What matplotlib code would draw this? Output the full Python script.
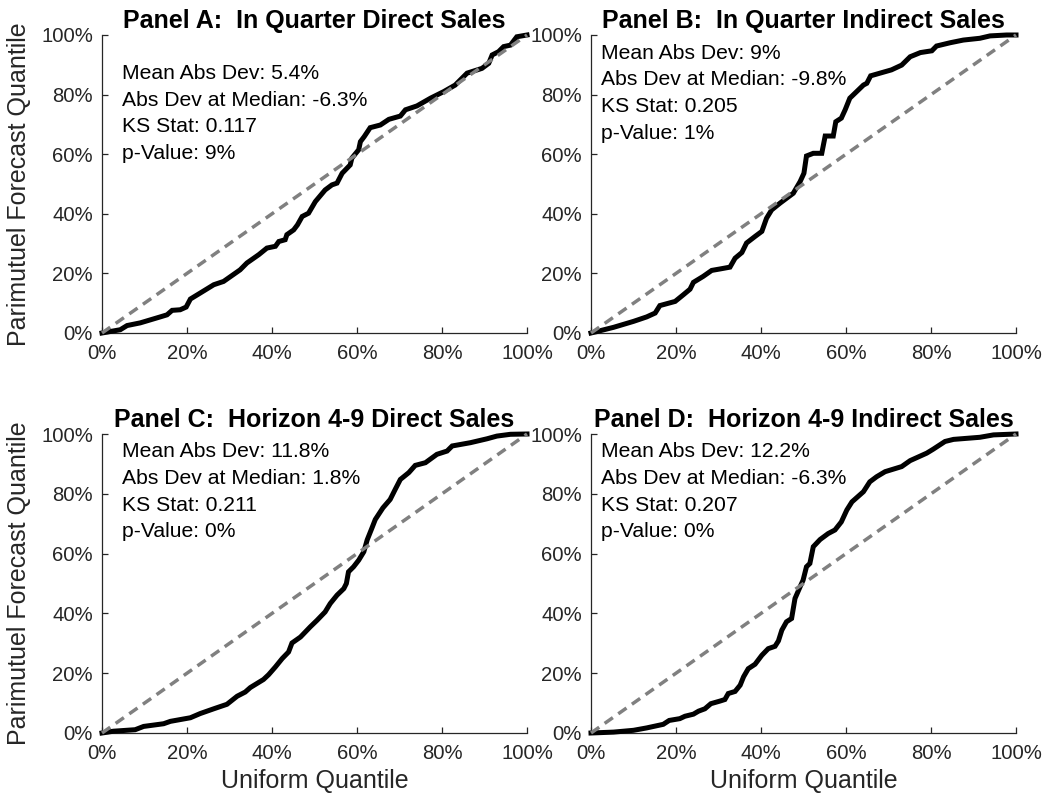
import matplotlib
matplotlib.use("Agg")
import matplotlib.pyplot as plt
from matplotlib.ticker import FuncFormatter

plt.rcParams['font.family'] = ['Liberation Sans', 'DejaVu Sans']

# Empirical quantile curves (uniform quantile %, forecast quantile %)
a_x = [0, 4.3, 5.9, 9.0, 13.7, 15.3, 16.5, 18.4, 19.8, 20.8, 23.1, 26.3, 28.6, 32.5, 34.1, 36.9,
       38.8, 40.8, 41.6, 43.1, 43.5, 45.1, 46.0, 47.1, 48.6, 50.2, 52.5, 54.1, 55.3, 56.5, 58.4,
       58.8, 60.4, 60.8, 61.7, 63.1, 65.5, 67.5, 70.2, 71.4, 74.1, 77.3, 80.4, 83.1, 85.9, 89.4,
       91.0, 91.8, 93.3, 94.5, 96.1, 97.6, 100]
a_y = [0, 1.1, 2.5, 3.4, 5.4, 6.1, 7.6, 7.8, 8.7, 11.4, 13.4, 16.2, 17.3, 21.2, 23.5, 26.3,
       28.5, 29.1, 30.7, 31.3, 33.0, 34.6, 36.3, 39.1, 40.2, 44.1, 48.0, 49.7, 50.3, 53.6, 56.4,
       58.7, 61.5, 64.2, 65.9, 68.9, 69.8, 71.7, 72.8, 74.9, 76.2, 78.8, 81.0, 83.2, 87.2, 88.8,
       90.5, 93.3, 94.4, 96.1, 96.6, 99.4, 100]

b_x = [0, 5.3, 10, 13.1, 15.1, 16.2, 19.8, 21.7, 23.3, 24.1, 26.4, 28.4, 30.4, 32.7, 33.9, 35.5,
       36.6, 38.6, 40.2, 41.3, 42.5, 44.5, 47.6, 49.2, 50.1, 50.7, 52.3, 54.3, 55.1, 57.0, 57.6,
       58.9, 59.8, 60.9, 62.5, 64.1, 64.9, 65.8, 68.0, 70.7, 73.1, 75.1, 77.5, 80.2, 81.3, 84.5,
       87.6, 91.5, 93.9, 97.8, 100]
b_y = [0, 1.9, 3.9, 5.4, 6.7, 9.2, 10.6, 12.8, 14.7, 17.0, 19.0, 21.0, 21.5, 22.1, 25.1, 27.0,
       30.2, 32.4, 34.1, 38.5, 41.3, 43.6, 46.9, 50.8, 53.6, 59.4, 60.3, 60.3, 66.1, 66.1, 70.9,
       72.1, 74.9, 78.8, 81.0, 83.2, 83.8, 86.3, 87.2, 88.3, 89.9, 92.7, 94.1, 94.7, 96.3, 97.4,
       98.3, 98.9, 99.7, 100, 100]

c_x = [0, 2.7, 7.8, 9.8, 14.5, 16.1, 20.8, 23.1, 26.3, 29.4, 31.8, 33.7, 34.9, 38.0, 39.2, 40.8,
       42.4, 43.9, 44.7, 46.7, 49.0, 50.6, 52.5, 53.7, 55.3, 56.9, 57.5, 58.0, 59.2, 60.4, 61.6,
       62.4, 63.5, 64.3, 66.1, 67.8, 69.0, 70.2, 72.2, 73.7, 76.1, 78.8, 81.2, 82.4, 86.7, 90.6,
       92.9, 96.1, 100]
c_y = [0, 0.6, 1.1, 2.2, 3.1, 3.9, 5.1, 6.5, 8.1, 9.6, 12.3, 13.7, 15.2, 17.9, 19.5, 22.1,
       24.9, 27.1, 30.1, 32.1, 35.5, 37.7, 40.5, 43.3, 46.1, 48.3, 50.0, 53.9, 55.6, 57.8, 60.6,
       64.6, 68.5, 71.4, 75.3, 78.1, 81.5, 84.8, 87.1, 89.5, 90.4, 93.2, 94.3, 96.0, 97.1, 98.4,
       99.3, 99.9, 100]

d_x = [0, 5.3, 10.0, 13.1, 17.0, 18.4, 20.9, 22.1, 24.1, 25.3, 26.8, 28.2, 30.4, 31.5, 32.3, 33.9,
       35.1, 35.9, 37.0, 38.6, 40.2, 41.7, 43.3, 44.1, 44.9, 46.0, 47.2, 48.0, 49.2, 49.9, 50.7,
       51.5, 52.3, 53.9, 55.8, 57.4, 58.9, 60.2, 61.4, 64.1, 65.6, 67.2, 69.2, 73.1, 75.1, 79.0,
       80.5, 83.3, 85.3, 91.5, 94.7, 100]
d_y = [0, 0.3, 0.9, 1.7, 2.9, 4.2, 4.8, 5.6, 6.3, 7.3, 8.1, 9.8, 10.7, 11.2, 13.2, 13.9,
       16.0, 18.8, 21.5, 23.0, 26.0, 28.2, 29.0, 30.8, 34.4, 37.2, 38.3, 45.0, 48.9, 51.1, 55.6,
       56.7, 62.3, 64.7, 66.7, 67.9, 70.6, 74.6, 77.3, 80.7, 84.0, 85.7, 87.4, 89.1, 91.1, 93.6,
       94.9, 97.5, 98.2, 98.9, 99.7, 100]

titles = ["Panel A:  In Quarter Direct Sales", "Panel B:  In Quarter Indirect Sales",
          "Panel C:  Horizon 4-9 Direct Sales", "Panel D:  Horizon 4-9 Indirect Sales"]

stats = [
    ["Mean Abs Dev: 5.4%", "Abs Dev at Median: -6.3%", "KS Stat: 0.117", "p-Value: 9%"],
    ["Mean Abs Dev: 9%", "Abs Dev at Median: -9.8%", "KS Stat: 0.205", "p-Value: 1%"],
    ["Mean Abs Dev: 11.8%", "Abs Dev at Median: 1.8%", "KS Stat: 0.211", "p-Value: 0%"],
    ["Mean Abs Dev: 12.2%", "Abs Dev at Median: -6.3%", "KS Stat: 0.207", "p-Value: 0%"],
]

ticks = [0, 20, 40, 60, 80, 100]
curves = [(a_x, a_y), (b_x, b_y), (c_x, c_y), (d_x, d_y)]

W, H = 1046, 798
fig = plt.figure(figsize=(W / 100, H / 100), dpi=100)

# axes rectangles in pixels: left, top, right, bottom
rects = [(102, 35, 527, 333), (591, 35, 1016, 333),
         (102, 434, 527, 733), (591, 434, 1016, 733)]
# stats text anchor (axes x, axes y of first line)
text_pos = [(0.046, 0.871), (0.023, 0.9386), (0.046, 0.941), (0.023, 0.941)]
line_step = 26.7

axis_col = '#262626'
pct = FuncFormatter(lambda v, p: f"{v:.0f}%")

for i, (l, t, r, b) in enumerate(rects):
    ax = fig.add_axes([l / W, (H - b) / H, (r - l) / W, (b - t) / H])
    x, y = curves[i]
    ax.plot(x, y, color='black', lw=3.6, solid_joinstyle='miter', clip_on=False, zorder=3)
    ax.plot([0, 100], [0, 100], color='#808080', lw=2.5, ls=(0, (2.9, 1.9)),
            clip_on=False, zorder=4)
    ax.set_xlim(0, 100)
    ax.set_ylim(0, 100)
    ax.set_xticks(ticks)
    ax.set_yticks(ticks)
    ax.xaxis.set_major_formatter(pct)
    ax.yaxis.set_major_formatter(pct)
    for s in ('top', 'right'):
        ax.spines[s].set_visible(False)
    for s in ('left', 'bottom'):
        ax.spines[s].set_color(axis_col)
        ax.spines[s].set_linewidth(0.9)
    ax.tick_params(axis='both', direction='in', length=4, width=0.9, color=axis_col,
                   labelcolor=axis_col, labelsize=14.6)
    ax.tick_params(axis='x', pad=8)
    ax.tick_params(axis='y', pad=6.5)
    ax.set_title(titles[i], fontsize=18, fontweight='bold', pad=5, color='black')

    h_px = b - t
    tx, ty = text_pos[i]
    for k, s in enumerate(stats[i]):
        ax.text(tx, ty - k * line_step / h_px, s, transform=ax.transAxes,
                fontsize=15.2, ha='left', va='center', color='black')

    if i in (0, 2):
        ax.set_ylabel("Parimutuel Forecast Quantile", fontsize=18, color=axis_col, labelpad=7)
    if i in (2, 3):
        ax.set_xlabel("Uniform Quantile", fontsize=18, color=axis_col, labelpad=4)

fig.savefig("out.png", dpi=100)
